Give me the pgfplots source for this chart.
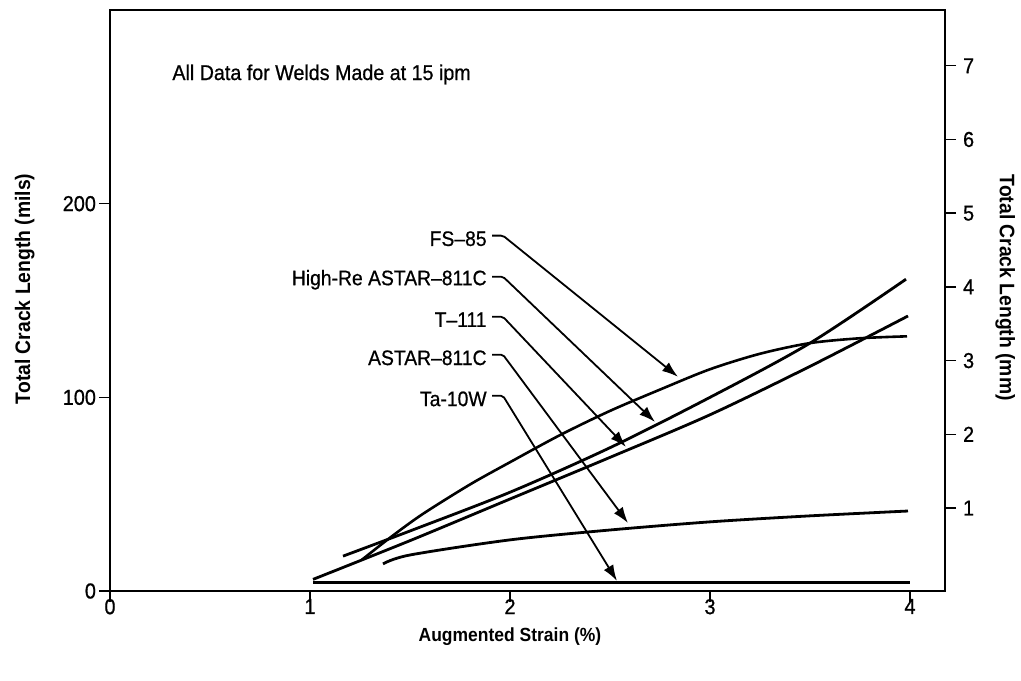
\documentclass[border=0pt]{standalone}
\usepackage{fontspec}
\setmainfont{Liberation Sans}[FakeStretch=0.92, UprightFeatures={FakeBold=0.7}]
\usepackage{pgfplots}
\pgfplotsset{compat=1.18}
\usetikzlibrary{arrows.meta}

\begin{document}
\begin{tikzpicture}
\begin{axis}[name=ax, scale only axis, width=417.5pt, height=290.5pt,
  xmin=0, xmax=4.175, ymin=0, ymax=300,
  xtick={0,1,2,3,4}, ytick={0,100,200},
  xtick pos=bottom, ytick pos=left, tick align=outside,
  major tick length=5.5pt,
  axis line style={line width=1pt},
  tick style={black, line width=0.7pt},
  /pgf/number format/assume math mode=true,
  tick label style={font=\fontsize{10.8}{12}\selectfont},
  xticklabel style={yshift=5pt},
  yticklabel style={xshift=2pt},
  xlabel={\bfseries Augmented Strain (\%)},
  ylabel={\bfseries Total Crack Length (mils)},
  every axis x label/.style={at={(axis description cs:0.479,-0.0792)}, anchor=center, font=\fontsize{9.5}{11}\selectfont\bfseries},
  every axis y label/.style={at={(axis description cs:-0.102,0.52)}, anchor=center, rotate=90, font=\fontsize{10.5}{12}\selectfont\bfseries},
  clip=false]

% Ta-10W
\addplot[line width=1.4pt] coordinates {(1.015,4.4) (4.0,4.4)};
% ASTAR-811C
\addplot[line width=1.4pt, smooth] coordinates {
 (1.365,14) (1.5,18.6) (2,26.4) (2.5,31.5) (3,35.7) (3.5,38.8) (3.99,41.3)};
% T-111
\addplot[line width=1.4pt, smooth] coordinates {
 (1.015,6) (1.5,26) (2,47.5) (2.5,69) (3,91) (3.5,116) (3.99,142)};
% High-Re ASTAR-811C
\addplot[line width=1.4pt, smooth] coordinates {
 (1.165,18) (1.5,31) (2,51) (2.5,74) (3,100) (3.5,128) (3.98,161)};
% FS-85
\addplot[line width=1.3pt, smooth] coordinates {
 (1.258,16) (1.4,27.5) (1.56,39.5) (1.8,55) (2,66.5) (2.25,80.5) (2.5,93)
 (2.75,104) (3,114.5) (3.25,122.5) (3.5,128) (3.75,130.5) (3.985,131.5)};

\node[anchor=west, inner sep=0pt, font=\fontsize{10.7}{12}\selectfont] at (axis cs:0.31,266.7) {All Data for Welds Made at 15 ipm};

\tikzset{lead/.style={line width=0.9pt, rounded corners=1pt, -{Latex[length=8pt,width=5.5pt]}},
         lab/.style={anchor=east, inner sep=0pt, font=\fontsize{10.5}{12}\selectfont}}
\node[lab] at (axis cs:1.885,181.9) {FS–85};
\draw[lead] (axis cs:1.91,183.5) -- (axis cs:1.965,183.5) -- (axis cs:2.84,110.6);
\node[lab] at (axis cs:1.885,160.7) {High-Re ASTAR–811C};
\draw[lead] (axis cs:1.91,162.3) -- (axis cs:1.965,162.3) -- (axis cs:2.725,87.3);
\node[lab] at (axis cs:1.885,140.1) {T–111};
\draw[lead] (axis cs:1.91,141.6) -- (axis cs:1.965,141.6) -- (axis cs:2.58,74.4);
\node[lab] at (axis cs:1.885,120.4) {ASTAR–811C};
\draw[lead] (axis cs:1.91,122.0) -- (axis cs:1.965,122.0) -- (axis cs:2.59,35.1);
\node[lab] at (axis cs:1.885,99.2) {Ta-10W};
\draw[lead] (axis cs:1.91,100.8) -- (axis cs:1.965,100.8) -- (axis cs:2.535,5.2);
\end{axis}

\begin{axis}[scale only axis, width=417.5pt, height=290.5pt,
  xmin=0, xmax=4.175, ymin=-0.126, ymax=7.757,
  hide x axis,
  ytick={1,2,3,4,5,6,7}, ytick pos=right, yticklabel pos=right,
  tick align=outside, major tick length=5.5pt,
  axis line style={line width=1pt},
  tick style={black, line width=0.7pt},
  /pgf/number format/assume math mode=true,
  tick label style={font=\fontsize{10.8}{12}\selectfont},
  ylabel={\bfseries Total Crack Length (mm)},
  every axis y label/.style={at={(axis description cs:1.072,0.522)}, anchor=center, rotate=-90, font=\fontsize{10.5}{12}\selectfont\bfseries}]
\end{axis}

\pgfresetboundingbox
\path (ax.south west) ++(-55pt,-44.5pt) rectangle ++(510.5pt,340pt);
\end{tikzpicture}
\end{document}
